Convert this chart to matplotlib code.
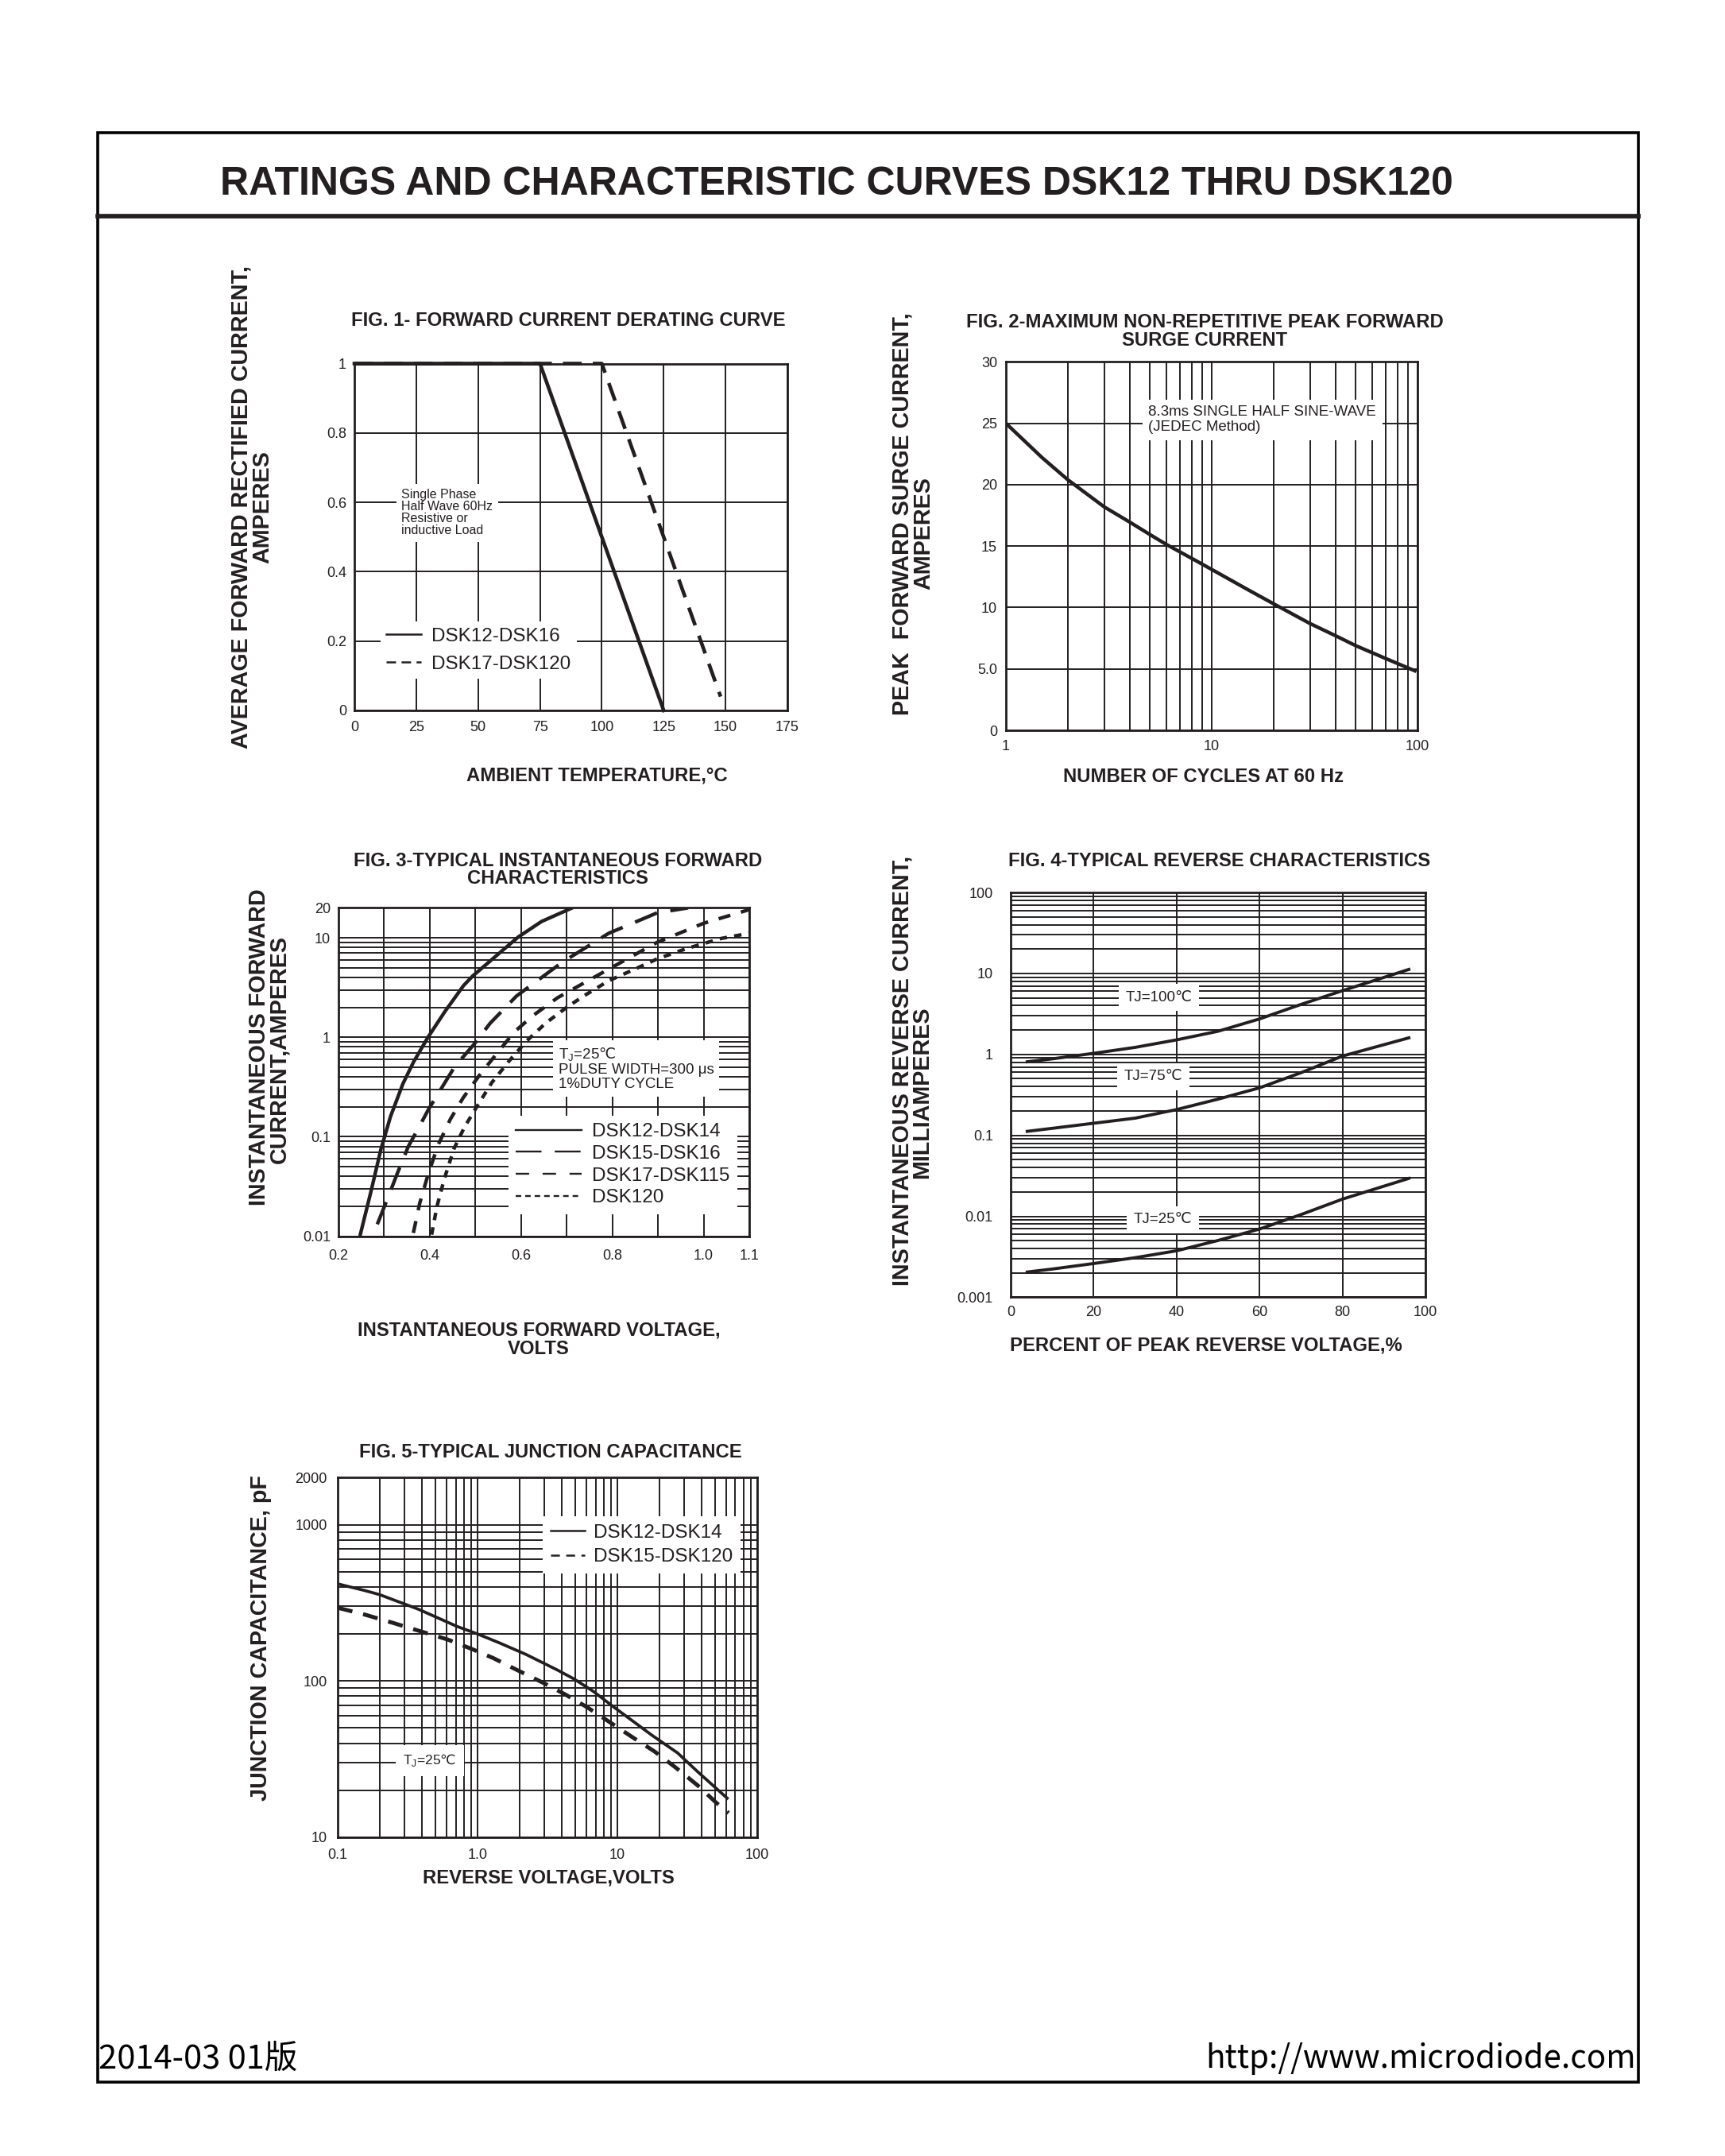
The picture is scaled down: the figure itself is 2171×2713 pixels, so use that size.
import numpy as np
import matplotlib
matplotlib.use("Agg")
import matplotlib.pyplot as plt
from matplotlib.lines import Line2D
from matplotlib.patches import Rectangle
from matplotlib.ticker import FixedLocator, LogLocator, NullFormatter

plt.rcParams['font.family'] = ['Liberation Sans', 'DejaVu Sans']
plt.rcParams['lines.scale_dashes'] = False
INK = '#231f20'

# ---------------- data ----------------
# fig 1 - derating
temp_low = [0, 75, 125]
amps_low = [1.0, 1.0, 0.0]
temp_high = [0, 100, 148]
amps_high = [1.0, 1.0, 0.04]
temp_ticks = [0, 25, 50, 75, 100, 125, 150, 175]
amps_ticks = [0, 0.2, 0.4, 0.6, 0.8, 1.0]
amps_labels = ['0', '0.2', '0.4', '0.6', '0.8', '1']

# fig 2 - surge current
cycles = [1, 1.5, 2, 3, 4, 5, 6, 8, 10, 15, 20, 30, 40, 50, 70, 97]
surge = [25.0, 22.2, 20.4, 18.2, 16.95, 15.95, 15.15, 14.0, 13.1, 11.45, 10.3, 8.7, 7.7, 6.9, 5.85, 4.85]
surge_ticks = [0, 5, 10, 15, 20, 25, 30]
surge_labels = ['0', '5.0', '10', '15', '20', '25', '30']

# fig 3 - forward characteristics
vf_12_14 = [0.248, 0.271, 0.293, 0.314, 0.341, 0.364, 0.396, 0.433, 0.474, 0.494, 0.555, 0.594, 0.645, 0.71]
if_12_14 = [0.0105, 0.028, 0.075, 0.16, 0.34, 0.56, 1.0, 1.81, 3.31, 4.13, 7.18, 10.2, 14.6, 19.8]
vf_15_16 = [0.285, 0.306, 0.329, 0.353, 0.381, 0.397, 0.426, 0.455, 0.496, 0.532, 0.59, 0.69, 0.792, 0.898, 0.966]
if_15_16 = [0.0132, 0.023, 0.043, 0.080, 0.137, 0.188, 0.31, 0.51, 0.84, 1.38, 2.6, 5.67, 11.1, 17.8, 20.0]
vf_17_115 = [0.364, 0.378, 0.397, 0.419, 0.445, 0.473, 0.508, 0.545, 0.585, 0.626, 0.68, 0.792, 0.898, 1.0, 1.1]
if_17_115 = [0.0108, 0.0215, 0.0429, 0.0843, 0.15, 0.246, 0.411, 0.67, 1.13, 1.65, 2.5, 4.84, 9.0, 14.0, 19.2]
vf_120 = [0.404, 0.416, 0.432, 0.453, 0.476, 0.504, 0.536, 0.574, 0.613, 0.654, 0.70, 0.736, 0.792, 0.849, 0.898, 0.962, 1.038, 1.1]
if_120 = [0.0104, 0.0202, 0.038, 0.0759, 0.125, 0.204, 0.351, 0.58, 0.926, 1.39, 2.0, 2.58, 3.7, 4.84, 6.13, 7.78, 9.84, 11.1]
vf_ticks = [0.2, 0.4, 0.6, 0.8, 1.0, 1.1]
vf_labels = ['0.2', '0.4', '0.6', '0.8', '1.0', '1.1']
vf_minor = [0.3, 0.5, 0.7, 0.9]
if_ticks = [0.01, 0.1, 1, 10, 20]
if_labels = ['0.01', '0.1', '1', '10', '20']

# fig 4 - reverse characteristics
pct_vr = [4, 10, 20, 30, 40, 50, 60, 70, 80, 96]
ir_100c = [0.81, 0.88, 1.03, 1.22, 1.51, 1.93, 2.74, 4.14, 6.12, 11.2]
ir_75c = [0.112, 0.122, 0.141, 0.163, 0.208, 0.28, 0.386, 0.594, 0.953, 1.6]
ir_25c = [0.00205, 0.00223, 0.00261, 0.00308, 0.00375, 0.00503, 0.00696, 0.0105, 0.0163, 0.0294]
pct_ticks = [0, 20, 40, 60, 80, 100]
ir_ticks = [0.001, 0.01, 0.1, 1, 10, 100]
ir_labels = ['0.001', '0.01', '0.1', '1', '10', '100']

# fig 5 - junction capacitance
vr_12_14 = [0.1, 0.156, 0.199, 0.377, 0.717, 1.0, 1.42, 2.22, 3.77, 4.91, 6.7, 9.54, 13.0, 17.7, 27.0, 37.6, 61.2]
cap_12_14 = [418, 379, 357, 288, 223, 200, 176, 148, 117, 103, 86.2, 67.7, 55.2, 45.0, 34.7, 26.3, 17.8]
vr_15_120 = [0.1, 0.156, 0.242, 0.377, 0.614, 0.914, 1.30, 1.94, 3.02, 4.30, 6.13, 8.93, 13.0, 18.5, 26.4, 37.6, 51.3, 62.6]
cap_15_120 = [294, 266, 237, 210, 184, 160, 140, 117, 96.4, 81.5, 67.7, 54.2, 43.4, 35.4, 27.8, 21.5, 16.6, 14.3]
vr_ticks = [0.1, 1, 10, 100]
vr_labels = ['0.1', '1.0', '10', '100']
cap_ticks = [10, 100, 1000, 2000]
cap_labels = ['10', '100', '1000', '2000']

# ---------------- layout helpers ----------------
W, H = 2171, 2713
fig = plt.figure(figsize=(W / 100, H / 100), dpi=100)
fig.patch.set_facecolor('white')


def ftext(x, y, s, **kw):
    kw.setdefault('color', INK)
    return fig.text(x / W, 1 - y / H, s, **kw)


def panel(l, t, r, b, xpad, ypad):
    ax = fig.add_axes([l / W, 1 - b / H, (r - l) / W, (b - t) / H])
    ax.set_axisbelow(True)
    for s in ax.spines.values():
        s.set_linewidth(2.0)
        s.set_color(INK)
    ax.tick_params(which='both', length=0, labelsize=13, colors=INK)
    ax.tick_params(axis='x', pad=xpad)
    ax.tick_params(axis='y', pad=ypad)
    ax.grid(True, which='both', color=INK, linewidth=1.4)
    return ax


def log_minor(axis):
    axis.set_minor_locator(LogLocator(base=10, subs=np.arange(2, 10), numticks=100))
    axis.set_minor_formatter(NullFormatter())


box = dict(facecolor='white', edgecolor='none', boxstyle='square,pad=0.4')
leg_kw = dict(loc='upper left', borderaxespad=0, frameon=True, fancybox=False,
              framealpha=1, facecolor='white', edgecolor='none', fontsize=17.5,
              labelcolor=INK)
TJ25 = 'T$_\\mathregular{J}$=25$\\mathrm{℃}$'

# frame and header
fig.add_artist(Rectangle((122.5 / W, 1 - 2620 / H), (2062 - 122.5) / W, (2620 - 167) / H,
                         transform=fig.transFigure, fill=False, lw=2.6, ec='black'))
fig.add_artist(Line2D([122.5 / W, 2062 / W], [1 - 272 / H, 1 - 272 / H],
                      transform=fig.transFigure, lw=4.1, color=INK))
ftext(1053, 245, 'RATINGS AND CHARACTERISTIC CURVES DSK12 THRU DSK120',
      fontsize=36, fontweight='bold', ha='center', va='baseline')

# ---------------- FIG 1 ----------------
ax1 = panel(446, 457.5, 991, 894, 9.4, 7.2)
ax1.plot(temp_low, amps_low, color=INK, lw=3.3, clip_on=False)
ax1.plot(temp_high, amps_high, color=INK, lw=3.3, dashes=(17, 10), clip_on=False)
ax1.set_xlim(0, 175)
ax1.set_ylim(0, 1)
ax1.set_xticks(temp_ticks)
ax1.set_yticks(amps_ticks)
ax1.set_yticklabels(amps_labels)
ax1.text(19.07, 0.57, 'Single Phase\nHalf Wave 60Hz\nResistive or\ninductive Load',
         fontsize=11.5, linespacing=1.0, ha='left', va='center', color=INK, bbox=box)
ax1.legend([Line2D([], [], color=INK, lw=1.8),
            Line2D([], [], color=INK, lw=1.8, dashes=(8.6, 5.0))],
           ['DSK12-DSK16', 'DSK17-DSK120'], bbox_to_anchor=(0.06, 0.256),
           borderpad=0.3, handlelength=1.8, handletextpad=0.56, labelspacing=0.54, **leg_kw)
ftext(715, 410, 'FIG. 1- FORWARD CURRENT DERATING CURVE', fontsize=17.2,
      fontweight='bold', ha='center', va='baseline')
ftext(751, 982, 'AMBIENT TEMPERATURE,°C', fontsize=17.2, fontweight='bold',
      ha='center', va='baseline')
ftext(303, 638, 'AVERAGE FORWARD RECTIFIED CURRENT,', fontsize=20.7, fontweight='bold',
      rotation=90, ha='center', va='center')
ftext(330, 638, 'AMPERES', fontsize=20.7, fontweight='bold', rotation=90,
      ha='center', va='center')

# ---------------- FIG 2 ----------------
ax2 = panel(1266, 455.4, 1784, 919, 8.4, 7.9)
ax2.plot(cycles, surge, color=INK, lw=3.2)
ax2.set_xscale('log')
ax2.set_xlim(1, 100)
ax2.set_ylim(0, 30)
ax2.set_xticks([1, 10, 100])
ax2.set_xticklabels(['1', '10', '100'])
log_minor(ax2.xaxis)
ax2.set_yticks(surge_ticks)
ax2.set_yticklabels(surge_labels)
ax2.text(4.93, 25.3, '8.3ms SINGLE HALF SINE-WAVE\n(JEDEC Method)', fontsize=13.5,
         linespacing=1.15, ha='left', va='center', color=INK, bbox=box)
ftext(1516, 412, 'FIG. 2-MAXIMUM NON-REPETITIVE PEAK FORWARD', fontsize=17.2,
      fontweight='bold', ha='center', va='baseline')
ftext(1516, 435, 'SURGE CURRENT', fontsize=17.2, fontweight='bold', ha='center', va='baseline')
ftext(1514, 984, 'NUMBER OF CYCLES AT 60 Hz', fontsize=17.2, fontweight='bold',
      ha='center', va='baseline')
ftext(1135, 647, 'PEAK  FORWARD SURGE CURRENT,', fontsize=20.7, fontweight='bold',
      rotation=90, ha='center', va='center')
ftext(1162, 671, 'AMPERES', fontsize=20.7, fontweight='bold', rotation=90,
      ha='center', va='center')

# ---------------- FIG 3 ----------------
ax3 = panel(426, 1142.4, 943, 1555.7, 11.5, 7.2)
ax3.plot(vf_12_14, if_12_14, color=INK, lw=3.2)
ax3.plot(vf_15_16, if_15_16, color=INK, lw=3.2, dashes=(21.6, 12.2))
ax3.plot(vf_17_115, if_17_115, color=INK, lw=3.2, dashes=(11, 10))
ax3.plot(vf_120, if_120, color=INK, lw=3.2, dashes=(6.8, 6.5))
ax3.set_yscale('log')
ax3.set_xlim(0.2, 1.1)
ax3.set_ylim(0.01, 20)
ax3.set_xticks(vf_ticks)
ax3.set_xticklabels(vf_labels)
ax3.xaxis.set_minor_locator(FixedLocator(vf_minor))
ax3.set_yticks(if_ticks)
ax3.set_yticklabels(if_labels)
log_minor(ax3.yaxis)
ax3.text(0.682, 0.484, TJ25 + '\nPULSE WIDTH=300 μs\n1%DUTY CYCLE',
         fontsize=13.5, linespacing=1.05, ha='left', va='center', color=INK,
         bbox=dict(facecolor='white', edgecolor='none', boxstyle='square,pad=0.35'))
ax3.legend([Line2D([], [], color=INK, lw=1.7),
            Line2D([], [], color=INK, lw=1.7, dashes=(23.4, 12)),
            Line2D([], [], color=INK, lw=1.7, dashes=(12.2, 12.2)),
            Line2D([], [], color=INK, lw=1.7, dashes=(5, 3.6))],
           ['DSK12-DSK14', 'DSK15-DSK16', 'DSK17-DSK115', 'DSK120'],
           bbox_to_anchor=(0.413, 0.368), borderpad=0.4, handlelength=3.4,
           handletextpad=0.53, labelspacing=0.23, **leg_kw)
ftext(702, 1090, 'FIG. 3-TYPICAL INSTANTANEOUS FORWARD', fontsize=17.2,
      fontweight='bold', ha='center', va='baseline')
ftext(702, 1112.5, 'CHARACTERISTICS', fontsize=17.2, fontweight='bold',
      ha='center', va='baseline')
ftext(678, 1680, 'INSTANTANEOUS FORWARD VOLTAGE,', fontsize=17.2, fontweight='bold',
      ha='center', va='baseline')
ftext(678, 1704, 'VOLTS', fontsize=17.2, fontweight='bold', ha='center', va='baseline')
ftext(326, 1318, 'INSTANTANEOUS FORWARD', fontsize=20.7, fontweight='bold',
      rotation=90, ha='center', va='center')
ftext(351, 1321, 'CURRENT,AMPERES', fontsize=20.7, fontweight='bold', rotation=90,
      ha='center', va='center')

# ---------------- FIG 4 ----------------
ax4 = panel(1272, 1123, 1794, 1632.4, 7.9, 16)
for ir in (ir_100c, ir_75c, ir_25c):
    ax4.plot(pct_vr, ir, color=INK, lw=2.8)
ax4.set_yscale('log')
ax4.set_xlim(0, 100)
ax4.set_ylim(0.001, 100)
ax4.set_xticks(pct_ticks)
ax4.set_yticks(ir_ticks)
ax4.set_yticklabels(ir_labels)
log_minor(ax4.yaxis)
tj_box = dict(facecolor='white', edgecolor='none', boxstyle='square,pad=0.45')
ax4.text(35.8, 5.06, 'TJ=100℃', fontsize=13.5, ha='center', va='center', color=INK, bbox=tj_box)
ax4.text(34.4, 0.53, 'TJ=75℃', fontsize=13.5, ha='center', va='center', color=INK, bbox=tj_box)
ax4.text(36.7, 0.0091, 'TJ=25℃', fontsize=13.5, ha='center', va='center', color=INK, bbox=tj_box)
ftext(1535, 1089.5, 'FIG. 4-TYPICAL REVERSE CHARACTERISTICS', fontsize=17.2,
      fontweight='bold', ha='center', va='baseline')
ftext(1518, 1699.6, 'PERCENT OF PEAK REVERSE VOLTAGE,%', fontsize=17.2,
      fontweight='bold', ha='center', va='baseline')
ftext(1136, 1347, 'INSTANTANEOUS REVERSE CURRENT,', fontsize=20.7, fontweight='bold',
      rotation=90, ha='center', va='center')
ftext(1160, 1374.5, 'MILLIAMPERES', fontsize=20.7, fontweight='bold', rotation=90,
      ha='center', va='center')

# ---------------- FIG 5 ----------------
ax5 = panel(425, 1859.3, 952.7, 2312, 10.2, 9.4)
ax5.plot(vr_12_14, cap_12_14, color=INK, lw=2.7)
ax5.plot(vr_15_120, cap_15_120, color=INK, lw=3.6, dashes=(13.7, 10))
ax5.set_xscale('log')
ax5.set_yscale('log')
ax5.set_xlim(0.1, 100)
ax5.set_ylim(10, 2000)
ax5.set_xticks(vr_ticks)
ax5.set_xticklabels(vr_labels)
ax5.set_yticks(cap_ticks)
ax5.set_yticklabels(cap_labels)
log_minor(ax5.xaxis)
log_minor(ax5.yaxis)
ax5.text(0.455, 31.1, TJ25, fontsize=12.5, ha='center', va='center', color=INK,
         bbox=dict(facecolor='white', edgecolor='none', boxstyle='square,pad=0.55'))
ax5.legend([Line2D([], [], color=INK, lw=1.8),
            Line2D([], [], color=INK, lw=1.8, dashes=(8, 5.8))],
           ['DSK12-DSK14', 'DSK15-DSK120'], bbox_to_anchor=(0.4885, 0.892),
           borderpad=0.4, handlelength=1.78, handletextpad=0.45, labelspacing=0.35, **leg_kw)
ftext(693, 1833.5, 'FIG. 5-TYPICAL JUNCTION CAPACITANCE', fontsize=17.2,
      fontweight='bold', ha='center', va='baseline')
ftext(690, 2369.3, 'REVERSE VOLTAGE,VOLTS', fontsize=17.2, fontweight='bold',
      ha='center', va='baseline')
ftext(328, 2061, 'JUNCTION CAPACITANCE, pF', fontsize=20.7, fontweight='bold',
      rotation=90, ha='center', va='center')

# footer
ftext(124, 2603, '2014-03 01版', fontsize=30, family='Noto Sans CJK SC',
      ha='left', va='baseline', color='black')
ftext(2059, 2602, 'http://www.microdiode.com', fontsize=29, family='Noto Sans CJK SC',
      ha='right', va='baseline', color='black')

fig.savefig('out.png', dpi=100, facecolor='white')
